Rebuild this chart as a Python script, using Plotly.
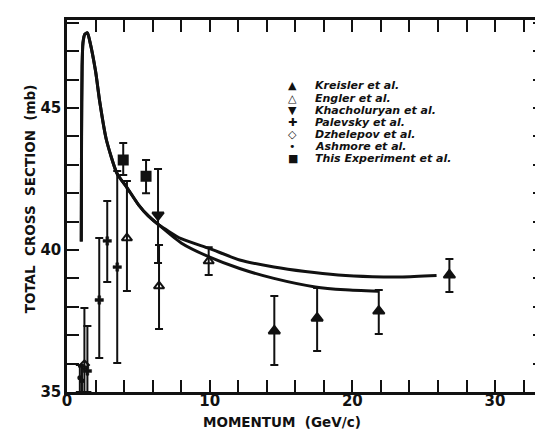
import plotly.graph_objects as go

# ---- data ----
kreisler_x = [14.53, 17.53, 21.85, 26.8]
kreisler_y = [37.15, 37.6, 37.85, 39.12]
kreisler_up = [1.23, 1.06, 0.74, 0.56]
kreisler_dn = [1.2, 1.16, 0.81, 0.6]

engler_x = [4.2, 6.45, 9.93]
engler_y = [40.42, 38.73, 39.61]
engler_up = [2.01, 1.45, 0.49]
engler_dn = [1.86, 1.51, 0.49]

khach_x = [6.38]
khach_y = [41.23]
khach_up = [1.62]
khach_dn = [1.69]

palevsky_x = [1.43, 2.26, 2.82, 3.52]
palevsky_y = [35.74, 38.24, 40.32, 39.4]
palevsky_up = [1.58, 2.18, 1.41, 3.38]
palevsky_dn = [0.74, 2.04, 1.45, 3.38]

dzhel_x = [1.22]
dzhel_y = [35.95]
dzhel_up = [2.01]
dzhel_dn = [0.95]

ashmore_x = [0.9, 1.05]
ashmore_y = [35.5, 35.4]
ashmore_up = [0.45, 0.5]
ashmore_dn = [0.5, 0.4]

thisexp_x = [3.94, 5.54]
thisexp_y = [43.17, 42.6]
thisexp_up = [0.6, 0.57]
thisexp_dn = [0.53, 0.6]

curve_common_x = [1.0, 1.02, 1.06, 1.12, 1.25, 1.43, 1.6, 2.0, 2.3, 2.75, 3.5, 4.2, 5.0, 5.7, 6.4]
curve_common_y = [40.3, 44.0, 46.5, 47.3, 47.6, 47.65, 47.35, 46.3, 45.2, 43.9, 42.7, 42.2, 41.6, 41.2, 40.9]
curve_upper_x = [8.0, 10.0, 12.1, 14.5, 16.7, 19.0, 21.4, 23.5, 25.9]
curve_upper_y = [40.4, 40.05, 39.65, 39.4, 39.24, 39.12, 39.06, 39.05, 39.1]
curve_lower_x = [8.0, 10.0, 12.1, 14.5, 17.4, 19.5, 21.8]
curve_lower_y = [40.25, 39.75, 39.35, 39.0, 38.7, 38.6, 38.55]

x_tickvals = list(range(0, 34, 2))
x_ticktext = [str(v) if v % 10 == 0 else "" for v in x_tickvals]
y_tickvals = list(range(35, 49))
y_ticktext = [str(v) if v % 5 == 0 else "" for v in y_tickvals]

legend_symbols = ["\u25B2", "\u25B3", "\u25BC", "\u271A", "\u25C7", "\u2022", "\u25A0"]
legend_labels = ["Kreisler et al.", "Engler et al.", "Khacholuryan et al.", "Palevsky et al.",
                 "Dzhelepov et al.", "Ashmore et al.", "This Experiment et al."]

BLACK = "#111111"
FONT = "DejaVu Sans"
fig = go.Figure()

def add_series(x, y, up, dn, symbol, size, name, lw=2):
    fig.add_trace(go.Scatter(
        x=x, y=y, mode="markers", name=name, showlegend=False,
        marker=dict(symbol=symbol, size=size, color=BLACK,
                    line=dict(color=BLACK, width=lw)),
        error_y=dict(type="data", symmetric=False, array=up, arrayminus=dn,
                     color=BLACK, thickness=2, width=4),
    ))

for cx, cy in [(curve_upper_x, curve_upper_y), (curve_lower_x, curve_lower_y)]:
    fig.add_trace(go.Scatter(x=curve_common_x + cx, y=curve_common_y + cy,
                             mode="lines", line=dict(color=BLACK, width=3, shape="spline", smoothing=0.6),
                             showlegend=False))

add_series(kreisler_x, kreisler_y, kreisler_up, kreisler_dn, "triangle-up", 10, legend_labels[0])
add_series(engler_x, engler_y, engler_up, engler_dn, "triangle-up-open", 9, legend_labels[1])
add_series(khach_x, khach_y, khach_up, khach_dn, "triangle-down", 10, legend_labels[2])
add_series(palevsky_x, palevsky_y, palevsky_up, palevsky_dn, "cross", 7, legend_labels[3], lw=0.5)
add_series(dzhel_x, dzhel_y, dzhel_up, dzhel_dn, "diamond-open", 7, legend_labels[4])
add_series(ashmore_x, ashmore_y, ashmore_up, ashmore_dn, "circle", 3, legend_labels[5])
add_series(thisexp_x, thisexp_y, thisexp_up, thisexp_dn, "square", 9, legend_labels[6])

# legend as text annotations
L, R, T, B = 59, 3, 12, 45
W, H = 543 - L - R, 429 - T - B
for i, (s, lab) in enumerate(zip(legend_symbols, legend_labels)):
    py = 78 + 12.1 * i
    yp = (429 - B - py) / H
    fig.add_annotation(x=(286 - L) / W, y=yp, xref="paper", yref="paper", text=s,
                       showarrow=False, xanchor="center", yanchor="middle",
                       font=dict(family=FONT, size=11, color=BLACK))
    fig.add_annotation(x=(307 - L) / W, y=yp, xref="paper", yref="paper",
                       text="<b><i>" + lab + "</i></b>",
                       showarrow=False, xanchor="left", yanchor="middle",
                       font=dict(family=FONT, size=11, color=BLACK))

fig.add_annotation(x=(275 - L) / W, y=(429 - B - 414) / H, xref="paper", yref="paper",
                   text="<b>MOMENTUM  (GeV/c)</b>", showarrow=False,
                   xanchor="center", yanchor="middle",
                   font=dict(family=FONT, size=13.5, color=BLACK))
fig.add_annotation(x=(22 - L) / W, y=(429 - B - 191) / H, xref="paper", yref="paper",
                   text="<b>TOTAL  CROSS  SECTION  (mb)</b>", showarrow=False, textangle=-90,
                   xanchor="center", yanchor="middle",
                   font=dict(family=FONT, size=13.5, color=BLACK))

tickfont = dict(family=FONT, size=15, color=BLACK, weight="bold")
axis_common = dict(showgrid=False, zeroline=False, showline=True, linecolor=BLACK, linewidth=2.5,
                   mirror="ticks", ticks="inside", ticklen=12, tickwidth=2, tickcolor=BLACK,
                   tickfont=tickfont)
fig.update_xaxes(range=[0, 33.5], tickmode="array", tickvals=x_tickvals, ticktext=x_ticktext,
                 ticklabelstandoff=-7, **axis_common)
fig.update_yaxes(range=[35, 48.1], tickmode="array", tickvals=y_tickvals, ticktext=y_ticktext,
                 **axis_common)
fig.update_layout(width=543, height=429, margin=dict(l=L, r=R, t=T, b=B),
                  plot_bgcolor="white", paper_bgcolor="white", showlegend=False,
                  font=dict(family=FONT, color=BLACK))
fig.write_html("out.html")
